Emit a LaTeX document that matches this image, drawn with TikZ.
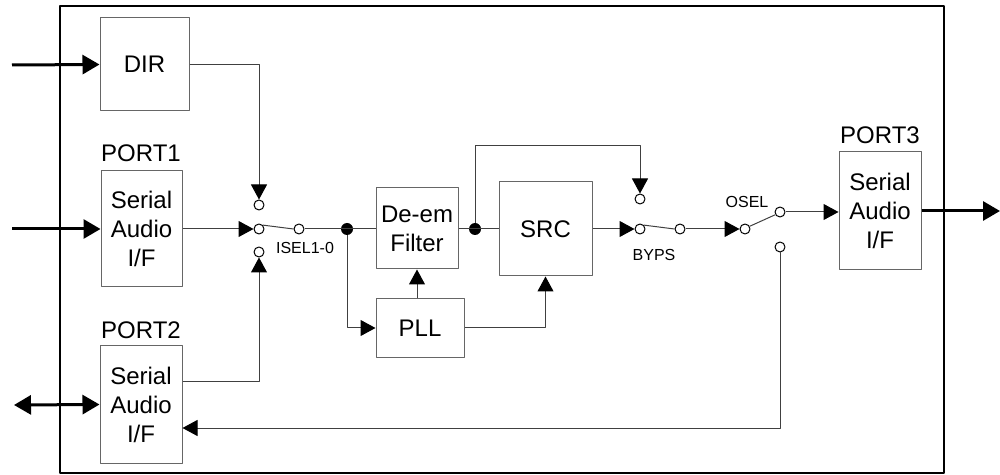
\documentclass[tikz,border=0pt]{standalone}
\usepackage{fontspec}
\setmainfont{Liberation Sans}
\usetikzlibrary{arrows.meta}
\begin{document}
\begin{tikzpicture}[x=0.5pt,y=-0.5pt,>={Triangle[length=7.5pt,width=8pt,color=black]},line join=round,
  blk/.style={draw=black!60,line width=0.5pt,align=center,inner sep=0pt,font=\fontsize{12}{14.5}\selectfont},
  lbl/.style={font=\fontsize{12}{14.5}\selectfont,inner sep=0pt},
  sml/.style={font=\fontsize{8}{9}\selectfont,inner sep=0pt},
  sig/.style={draw=black!75,line width=0.5pt},
  ext/.style={line width=1.5pt,>={Triangle[length=8.5pt,width=9.5pt]}},
  contact/.style={circle,draw=black,line width=0.5pt,fill=white,inner sep=0pt,minimum size=5pt},
  dot/.style={circle,fill=black,inner sep=0pt,minimum size=6pt}]
\useasboundingbox (0,0) rectangle (1000,475);
\draw[line width=1.3pt] (60,6) rectangle (944,473);
% blocks
\node[blk,minimum width=44.5pt,minimum height=46.5pt] (DIR) at (144.5,64.5) {DIR};
\node[blk,minimum width=40.5pt,minimum height=58pt] (PORT1) at (141.5,229) {Serial\\Audio\\I/F};
\node[blk,minimum width=41pt,minimum height=58.5pt] (PORT2) at (141,404.5) {Serial\\Audio\\I/F};
\node[blk,minimum width=41pt,minimum height=40.5pt] (DeEm) at (417,228.5) {De-em\\Filter};
\node[blk,minimum width=44pt,minimum height=29pt] (PLL) at (420,328) {PLL};
\node[blk,minimum width=46.5pt,minimum height=47pt] (SRC) at (545.5,229) {SRC};
\node[blk,minimum width=41pt,minimum height=59pt] (PORT3) at (880,211) {Serial\\Audio\\I/F};
\node[lbl] (L1) at (141,153) {PORT1};
\node[lbl] (L2) at (141,330) {PORT2};
\node[lbl] (L3) at (880,135) {PORT3};
% switches
\foreach \n/\x/\y in {iA/259/205,iC/259/229,iB/259/252,iO/299/229,bA/640/199,bC/640/229,bO/680/229,oC/745/229,oA/780/212,oB/780/247}
  \node[contact] (\n) at (\x,\y) {};
\node[dot] (d1) at (347,229) {};
\node[dot] (d2) at (475,229) {};
\node[sml] (isel) at (305,248) {ISEL1-0};
\node[sml] (byps) at (654,255) {BYPS};
\node[sml] (osel) at (747,202) {OSEL};
\draw[sig] (iC.45)--(iO.west) (bC.45)--(bO.west) (oC.30)--(oA.210);
% external ports
\coordinate (in1) at (12,65);
\coordinate (in2) at (12,229);
\coordinate (in3) at (14,405);
\coordinate (out) at (1000,211);
\draw[ext,->] (in1)--(DIR.west);
\draw[ext,->] (in2)--(PORT1.west);
\draw[ext,<->] (in3)--(PORT2.west);
\draw[ext,->] (PORT3.east)--(out);
% signal paths
\draw[sig,->] (DIR.east) -| (iA.north);
\draw[sig,->] (PORT1.east)--(iC.west);
\draw[sig,->] ([yshift=11.75pt]PORT2.east) -| (iB.south);
\draw[sig] (iO.east)--(iO.east -| DeEm.west);
\draw[sig,->] (d1) |- (PLL.west);
\draw[sig,->] (DeEm.south |- PLL.north)--(DeEm.south);
\draw[sig,->] (PLL.east) -| (SRC.south);
\draw[sig] (DeEm.east |- d2)--(SRC.west |- d2);
\coordinate (byp) at (640,146);
\draw[sig,->] (d2) |- (byp)--(bA.north);
\draw[sig,->] (SRC.east |- bC)--(bC.west);
\draw[sig,->] (bO.east)--(oC.west);
\draw[sig,->] (oA.east)--(PORT3.west |- oA);
\draw[sig,->] (oB.south) |- ([yshift=-11.75pt]PORT2.east);
\end{tikzpicture}
\end{document}
